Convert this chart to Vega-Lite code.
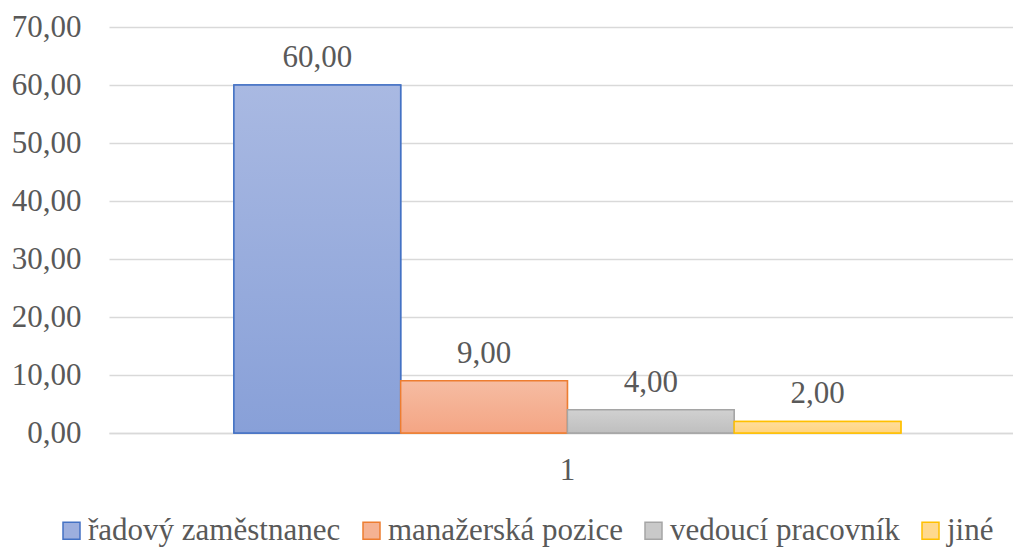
{
  "$schema": "https://vega.github.io/schema/vega-lite/v6.json",
  "autosize": {"type": "none"},
  "padding": {"left": 109, "top": 27, "right": 0, "bottom": 114},
  "width": 904,
  "height": 406,
  "config": {
    "locale": {"number": {"decimal": ",", "thousands": " ", "grouping": [3], "currency": ["", " Kč"]}},
    "view": {"stroke": null},
    "font": "Liberation Serif",
    "legend": {"labelFont": "Liberation Serif", "labelFontSize": 31, "labelColor": "#595959", "labelLimit": 0, "padding": 0, "symbolType": "square", "symbolSize": 289, "symbolStrokeWidth": 1.5}
  },
  "data": {
    "values": [
      {"k": "1", "s": "řadový zaměstnanec", "v": 60},
      {"k": "1", "s": "manažerská pozice", "v": 9},
      {"k": "1", "s": "vedoucí pracovník", "v": 4},
      {"k": "1", "s": "jiné", "v": 2}
    ]
  },
  "encoding": {
    "x": {
      "field": "k", "type": "nominal",
      "scale": {"paddingInner": 0, "paddingOuter": 0.1777, "align": 0.527},
      "axis": {"title": null, "labelAngle": 0, "domain": true, "domainColor": "#d9d9d9", "domainWidth": 1.5, "ticks": false, "labelPadding": 22, "labelFontSize": 31, "labelColor": "#595959", "labelFont": "Liberation Serif"}
    },
    "xOffset": {
      "field": "s", "type": "nominal", "sort": null,
      "scale": {"domain": ["řadový zaměstnanec", "manažerská pozice", "vedoucí pracovník", "jiné"], "paddingInner": 0, "paddingOuter": 0}
    },
    "y": {
      "field": "v", "type": "quantitative",
      "scale": {"domain": [0, 70], "nice": false},
      "axis": {"title": null, "format": ".2f", "values": [0, 10, 20, 30, 40, 50, 60, 70], "domain": false, "ticks": false, "labelPadding": 28, "labelFontSize": 31, "labelColor": "#595959", "labelFont": "Liberation Serif", "gridColor": "#d9d9d9", "gridWidth": 1.5}
    }
  },
  "layer": [
    {
      "mark": {"type": "bar", "strokeWidth": 1.5},
      "encoding": {
        "fill": {
          "field": "s", "type": "nominal",
          "scale": {"domain": ["řadový zaměstnanec", "manažerská pozice", "vedoucí pracovník", "jiné"], "range": ["#9DAFDE", "#F5B293", "#C9C9C9", "#FFD98E"]},
          "legend": {"title": null, "orient": "none", "legendX": -53, "legendY": 488, "direction": "horizontal", "columns": 4, "labelOffset": 1, "columnPadding": 15, "symbolStrokeWidth": 1.5, "encode": {"symbols": {"update": {"stroke": {"scale": "stroke", "field": "value"}}}}}
        },
        "stroke": {
          "field": "s", "type": "nominal",
          "scale": {"domain": ["řadový zaměstnanec", "manažerská pozice", "vedoucí pracovník", "jiné"], "range": ["#4472C4", "#ED7D31", "#A5A5A5", "#FFC000"]},
          "legend": null
        }
      }
    },
    {
      "mark": {"type": "bar", "strokeWidth": 1.5},
      "encoding": {
        "fill": {
          "condition": [
            {"test": "datum.s === 'řadový zaměstnanec'", "value": {"gradient": "linear", "x1": 0, "y1": 0, "x2": 0, "y2": 1, "stops": [{"offset": 0, "color": "#A9B9E2"}, {"offset": 1, "color": "#88A0D8"}]}},
            {"test": "datum.s === 'manažerská pozice'", "value": {"gradient": "linear", "x1": 0, "y1": 0, "x2": 0, "y2": 1, "stops": [{"offset": 0, "color": "#F6BCA2"}, {"offset": 1, "color": "#F4A584"}]}},
            {"test": "datum.s === 'vedoucí pracovník'", "value": {"gradient": "linear", "x1": 0, "y1": 0, "x2": 0, "y2": 1, "stops": [{"offset": 0, "color": "#D1D1D1"}, {"offset": 1, "color": "#BFBFBF"}]}}
          ],
          "value": {"gradient": "linear", "x1": 0, "y1": 0, "x2": 0, "y2": 1, "stops": [{"offset": 0, "color": "#FFDD9C"}, {"offset": 1, "color": "#FFD480"}]}
        },
        "stroke": {
          "field": "s", "type": "nominal",
          "scale": {"domain": ["řadový zaměstnanec", "manažerská pozice", "vedoucí pracovník", "jiné"], "range": ["#4472C4", "#ED7D31", "#A5A5A5", "#FFC000"]},
          "legend": null
        }
      }
    },
    {
      "mark": {"type": "text", "baseline": "alphabetic", "dy": -18, "fontSize": 31, "color": "#595959", "font": "Liberation Serif"},
      "encoding": {
        "text": {"field": "v", "type": "quantitative", "format": ".2f"}
      }
    }
  ]
}
